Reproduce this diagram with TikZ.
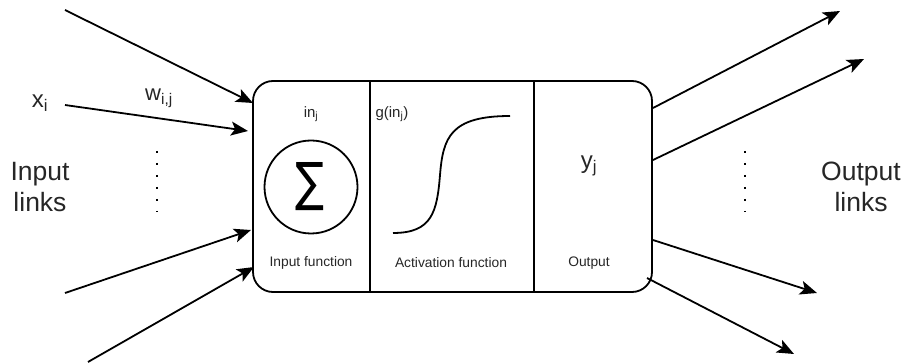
\documentclass[tikz,border=0pt]{standalone}
\usepackage{fontspec}
\setmainfont{Liberation Sans}
\newfontfamily\dejavu{DejaVu Sans}
\usetikzlibrary{arrows.meta}
\begin{document}
\begin{tikzpicture}[x=1pt,y=-1pt,
  link/.style={line width=1.8pt,-{Stealth[length=17pt,width=14pt,inset=4pt]}},
  frame/.style={draw,line width=1.8pt,rounded corners=20pt,minimum width=399pt,minimum height=211pt,inner sep=0pt},
  divider/.style={line width=1.8pt},
  small/.style={font=\fontsize{13.8}{16}\selectfont,text=black!85},
  big/.style={font=\fontsize{26.5}{31}\selectfont,text=black!85,align=center},
  dotline/.style={line width=2pt,dash pattern=on 2pt off 10pt}]
\useasboundingbox (0,0) rectangle (907,363);
\node[frame] (box) at (452.5,186.5) {};
\coordinate (d1t) at (370,81); \coordinate (d1b) at (370,292);
\coordinate (d2t) at (534,81); \coordinate (d2b) at (534,292);
\draw[divider] (d1t) -- (d1b);
\draw[divider] (d2t) -- (d2b);
% input function
\node[draw,circle,line width=1.8pt,minimum size=93pt,inner sep=0pt] (sum) at (311,187) {};
\node[inner sep=0pt] (sigma) at (310,187) {\resizebox{29pt}{38pt}{\dejavu ∑}};
\node[small,font=\fontsize{15}{17}\selectfont] (inj) at (311,114) {in\textsubscript{j}};
\node[small] (inf) at (311,263) {Input function};
% activation
\node[small,font=\fontsize{15}{17}\selectfont,anchor=west] (ginj) at (372,114) {g(in\textsubscript{j})};
\node[small] (actf) at (451,263) {Activation function};
\coordinate (s0) at (393,233); \coordinate (s1) at (440,175); \coordinate (s2) at (510,116);
\draw[line width=1.8pt] (s0) .. controls (432,233) and (437,212) .. (s1) .. controls (443,138) and (450,116) .. (s2);
% output
\node[small,font=\fontsize{24}{26}\selectfont] (yj) at (589,166) {y\textsubscript{j}};
\node[small] (outf) at (589,263) {Output};
% input links
\coordinate (a1) at (65,10);  \coordinate (b1) at (253,103);
\coordinate (a2) at (65,105); \coordinate (b2) at (248,131);
\coordinate (a3) at (65,293); \coordinate (b3) at (251,230);
\coordinate (a4) at (88,362); \coordinate (b4) at (254,267);
\draw[link] (a1) -- (b1);
\draw[link] (a2) -- (b2);
\draw[link] (a3) -- (b3);
\draw[link] (a4) -- (b4);
\node[big,font=\fontsize{24}{28}\selectfont] (xi) at (40,103) {x\textsubscript{i}};
\node[big,font=\fontsize{22}{26}\selectfont] (wij) at (159,98) {w\textsubscript{i,j}};
\node[big] (inl) at (40,187) {Input\\links};
\coordinate (dl1) at (157,151); \coordinate (dl2) at (157,212);
\draw[dotline] (dl1) -- (dl2);
% output links
\coordinate (c1) at (653,108); \coordinate (e1) at (840,11);
\coordinate (c2) at (653,160); \coordinate (e2) at (864,59);
\coordinate (c3) at (653,240); \coordinate (e3) at (817,293);
\coordinate (c4) at (647,278); \coordinate (e4) at (794,354);
\draw[link] (c1) -- (e1);
\draw[link] (c2) -- (e2);
\draw[link] (c3) -- (e3);
\draw[link] (c4) -- (e4);
\coordinate (dr1) at (745,151); \coordinate (dr2) at (745,212);
\draw[dotline] (dr1) -- (dr2);
\node[big] (outl) at (861,187) {Output\\links};
\end{tikzpicture}
\end{document}
